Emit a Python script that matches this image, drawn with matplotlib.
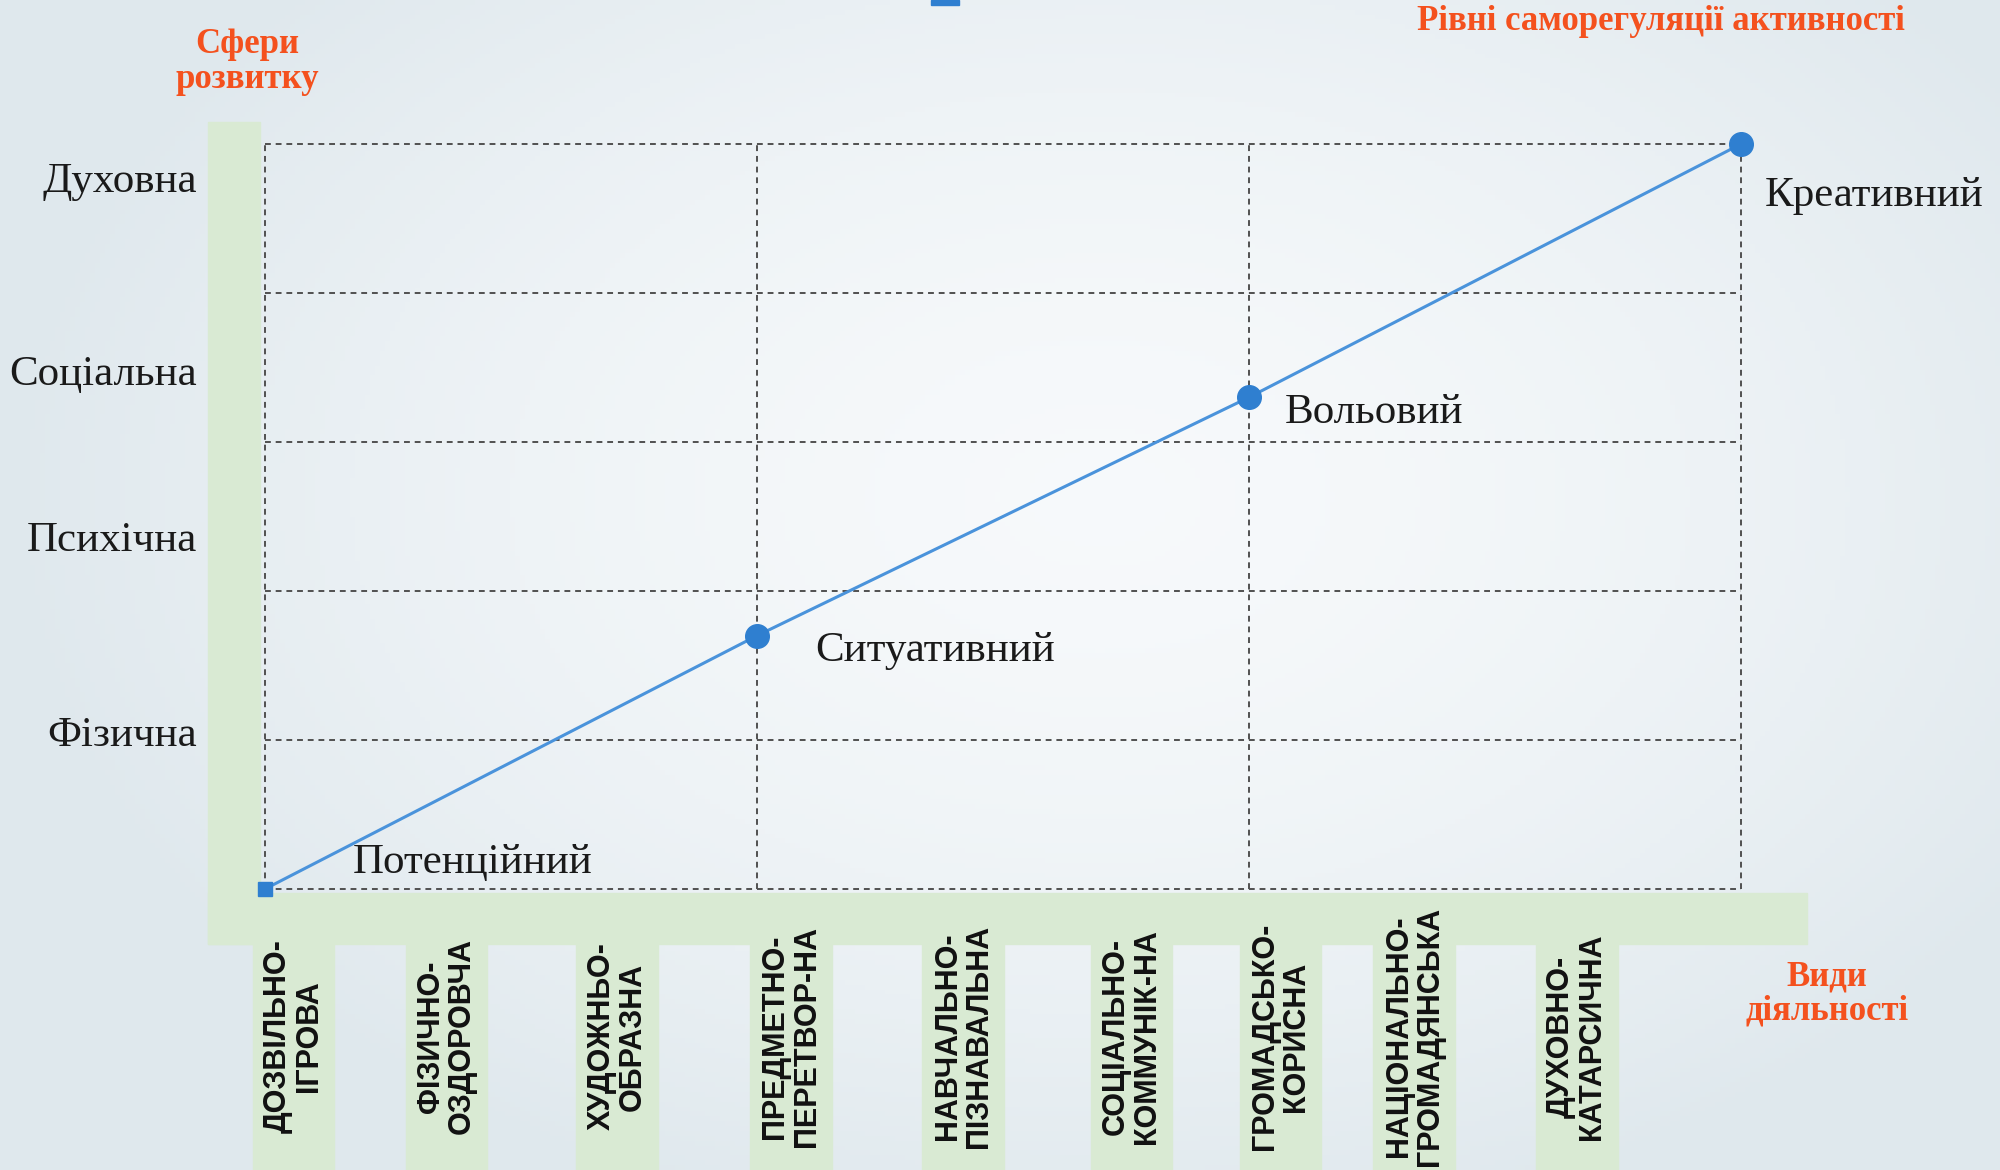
import numpy as np
import matplotlib.pyplot as plt
from matplotlib.patches import Rectangle

# spheres of development (y axis) and where their names sit
spheres = ["Фізична", "Психічна", "Соціальна", "Духовна"]
sphere_y = [1.06, 2.37, 3.48, 4.78]

# levels of self-regulation of activity
levels = ["Потенційний", "Ситуативний", "Вольовий", "Креативний"]
level_x = [0, 1, 2, 3]
level_y = [0, 1.7, 3.3, 5.0]

# kinds of activity along the bottom
activities = ["ДОЗВІЛЬНО-\nІГРОВА", "ФІЗИЧНО-\nОЗДОРОВЧА", "ХУДОЖНЬО-\nОБРАЗНА",
              "ПРЕДМЕТНО-\nПЕРЕТВОР-НА", "НАВЧАЛЬНО-\nПІЗНАВАЛЬНА",
              "СОЦІАЛЬНО-\nКОММУНІК-НА", "ГРОМАДСЬКО-\nКОРИСНА",
              "НАЦІОНАЛЬНО-\nГРОМАДЯНСЬКА", "ДУХОВНО-\nКАТАРСИЧНА"]
activity_x = [0.058, 0.369, 0.716, 1.069, 1.419, 1.761, 2.064, 2.336, 2.666]

label_offsets = [(63, 19), (42, -11), (26, -11), (17, -37)]

orange = "#f4511e"
green = "#d9eAd3"
blue = "#2f7fd0"

fig = plt.figure(figsize=(20, 11.7), dpi=100)

# soft background gradient
bg = fig.add_axes([0, 0, 1, 1], zorder=-10)
gx, gy = np.meshgrid(np.linspace(-1, 1, 400), np.linspace(-1, 1, 240))
r = np.clip(np.sqrt(((gx - 0.1) / 1.1) ** 2 + ((gy + 0.15) / 1.3) ** 2), 0, 1)
c_in = np.array([0.968, 0.978, 0.985])
c_out = np.array([0.875, 0.910, 0.930])
img = c_in + (c_out - c_in) * (r[..., None] ** 1.6)
bg.imshow(img, aspect="auto", extent=[0, 1, 0, 1])
bg.axis("off")

ax = fig.add_axes([0.1325, 0.2402, 0.738, 0.6367])
ax.set_facecolor("none")
ax.set_xlim(0, 3)
ax.set_ylim(0, 5)
for s in ax.spines.values():
    s.set_visible(False)

# green frame bars
ax.add_patch(Rectangle((-0.116, -0.369), 3.25, 0.342, color=green, clip_on=False, zorder=0))
ax.add_patch(Rectangle((-0.116, -0.369), 0.106, 5.517, color=green, clip_on=False, zorder=0))
for x in activity_x:
    ax.add_patch(Rectangle((x - 0.083, -2.0), 0.166, 1.65, color=green, clip_on=False, zorder=0))

# dashed grid
for x in range(4):
    ax.plot([x, x], [0, 5], color="#505050", lw=1.4, ls=(0, (3, 2.5)), zorder=1, clip_on=False)
for y in range(6):
    ax.plot([0, 3], [y, y], color="#505050", lw=1.4, ls=(0, (3, 2.5)), zorder=1, clip_on=False)

# the trend line
ax.plot(level_x, level_y, color="#4a93db", lw=2.2, zorder=3, clip_on=False)
ax.plot(level_x[1:], level_y[1:], "o", color=blue, ms=17, zorder=4, clip_on=False)
ax.plot(level_x[:1], level_y[:1], "s", color=blue, ms=10, zorder=4, clip_on=False)

for name, x, y, off in zip(levels, level_x, level_y, label_offsets):
    ax.annotate(name, (x, y), xytext=off, textcoords="offset points",
                ha="left", va="center", fontsize=31, family="Liberation Serif",
                color="#1a1a1a", zorder=5)

ax.set_xticks([])
ax.set_yticks(sphere_y, spheres, fontsize=31, family="Liberation Serif", color="#1a1a1a")
ax.tick_params(axis="y", length=0, pad=49)

for name, x in zip(activities, activity_x):
    ax.text(x, -0.99, name, rotation=90, ha="center", va="center", multialignment="center",
            fontsize=22, fontweight="bold", family="Liberation Sans", linespacing=1.05,
            color="#111111", clip_on=False)

# orange captions
fig.text(247 / 2000, 1 - 62 / 1170, "Сфери\nрозвитку", ha="center", va="center",
         fontsize=25, fontweight="bold", family="Liberation Serif", color=orange, linespacing=1.05)
fig.text(1661 / 2000, 1 - 22 / 1170, "Рівні саморегуляції активності", ha="center", va="center",
         fontsize=25, fontweight="bold", family="Liberation Serif", color=orange)
fig.text(1827 / 2000, 1 - 994 / 1170, "Види\nдіяльності", ha="center", va="center",
         fontsize=25, fontweight="bold", family="Liberation Serif", color=orange, linespacing=1.05)

# bit of a legend marker peeking in at the top
fig.patches.append(Rectangle((931 / 2000, 1 - 5 / 1170), 28 / 2000, 5 / 1170,
                             transform=fig.transFigure, color=blue, figure=fig))

fig.savefig("out.png", dpi=100)
